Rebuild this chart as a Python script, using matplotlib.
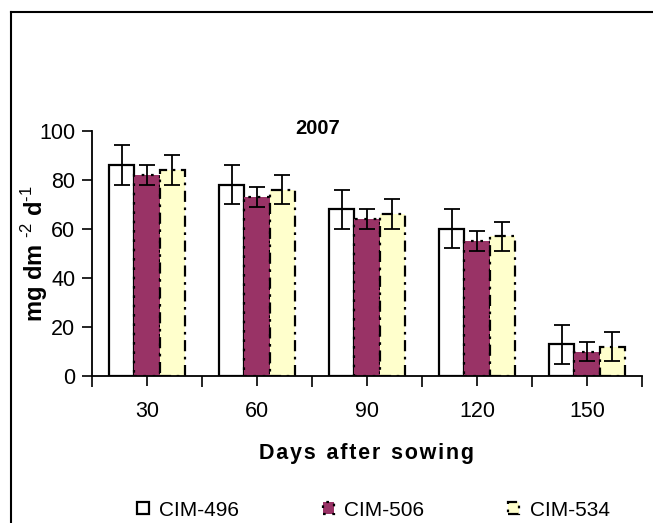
import numpy as np
import matplotlib.pyplot as plt
from matplotlib.lines import Line2D

plt.rcParams['font.family'] = ['Liberation Sans', 'DejaVu Sans']
plt.rcParams['mathtext.fontset'] = 'custom'
plt.rcParams['mathtext.rm'] = 'Liberation Sans'
plt.rcParams['mathtext.bf'] = 'Liberation Sans:bold'

# --- Datos ---
days = ["30", "60", "90", "120", "150"]
cultivars = ["CIM-496", "CIM-506", "CIM-534"]
cim496 = [86, 78, 68, 60, 13]
cim506 = [82, 73, 64, 55, 10]
cim534 = [84, 76, 66, 57, 12]
err496 = [8, 8, 8, 8, 8]
err506 = [4, 4, 4, 4, 4]
err534 = [6, 6, 6, 6, 6]

fig = plt.figure(figsize=(6.53, 5.23), dpi=100)
ax = fig.add_axes([0.141, 0.281, 0.842, 0.469])

# marco exterior
fig.add_artist(Line2D([11/653, 1.0], [1-12/523, 1-12/523], color='black', lw=1.5, transform=fig.transFigure))
fig.add_artist(Line2D([11/653, 11/653], [0.0, 1-12/523], color='black', lw=1.5, transform=fig.transFigure))

x = np.arange(len(days))
w = 0.23
styles = [
    dict(color='white', edgecolor='black', linestyle='-'),
    dict(color='#993366', edgecolor='black', linestyle=(0, (1.2, 3))),
    dict(color='#FFFFCC', edgecolor='black', linestyle=(0, (5, 2.5, 1.2, 2.5))),
]
series = [(cim496, err496), (cim506, err506), (cim534, err534)]

handles = []
for i, ((vals, errs), st) in enumerate(zip(series, styles)):
    pos = x + (i - 1) * w
    b = ax.bar(pos, vals, width=w, facecolor=st['color'], edgecolor=st['edgecolor'],
               linestyle=st['linestyle'], linewidth=1.6, label=cultivars[i], zorder=2)
    ax.errorbar(pos, vals, yerr=errs, fmt='none', ecolor='black', elinewidth=1.3,
                capsize=6, capthick=1.3, zorder=3)
    handles.append(b)

ax.set_xlim(-0.5, 4.5)
ax.set_ylim(0, 100)
ax.set_yticks(range(0, 101, 20))
ax.set_xticks(x)
ax.set_xticklabels(days)
ax.set_xticks(np.arange(-0.5, 5, 1), minor=True)
ax.tick_params(axis='both', which='major', labelsize=15.5, length=7, width=1.2, direction='out')
ax.tick_params(axis='x', which='minor', length=8, width=1.2, direction='out')
ax.tick_params(axis='x', which='major', pad=11)
ax.tick_params(axis='y', which='major', pad=5)

for s in ['top', 'right']:
    ax.spines[s].set_visible(False)
for s in ['left', 'bottom']:
    ax.spines[s].set_linewidth(1.3)

ax.set_ylabel(r"mg dm $^{\mathbf{\text{-2}}}$ d$^{\mathbf{\text{-1}}}$", fontsize=17, fontweight='bold')
ax.yaxis.set_label_coords(-0.076, 0.5)
ax.set_xlabel("D a y s   a f t e r   s o w i n g".replace("   ", "\u2002").replace(" ", "\u200a"),
              fontsize=15.5, fontweight='bold', labelpad=15)
ax.text(0.41, 1.01, "2007", transform=ax.transAxes, ha='center', va='center',
        fontsize=14.5, fontweight='bold')

fig.legend(handles=handles, labels=cultivars, loc='center', bbox_to_anchor=(0.572, 1-510/523),
           ncol=3, frameon=False, fontsize=15, handlelength=0.55, handleheight=0.55,
           handletextpad=0.5, columnspacing=4.0)

fig.savefig("out.png", dpi=100)
